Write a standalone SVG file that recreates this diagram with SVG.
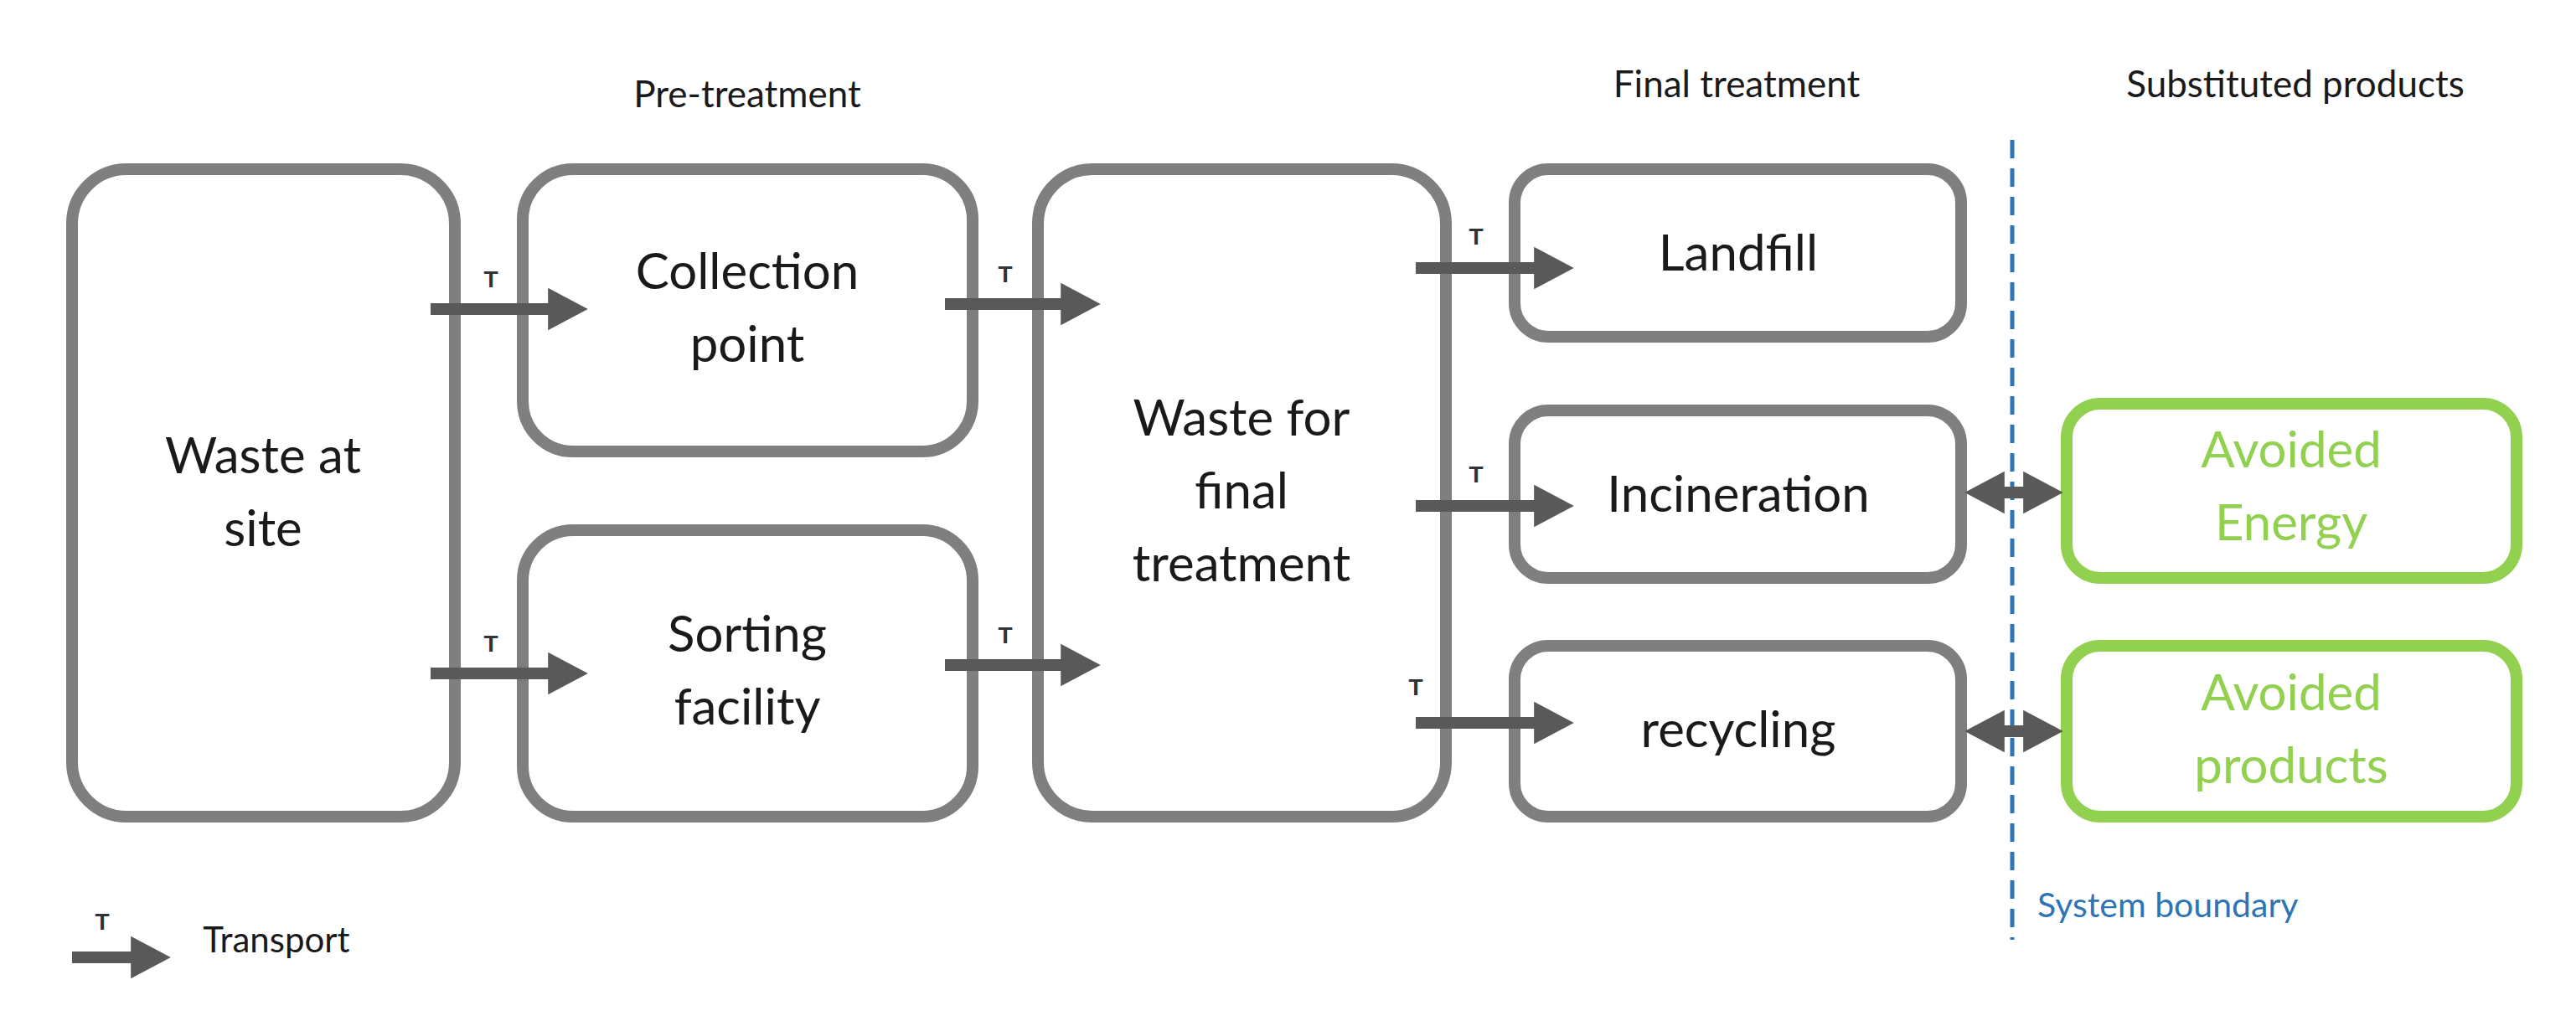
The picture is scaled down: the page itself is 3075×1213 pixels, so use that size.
<svg xmlns="http://www.w3.org/2000/svg" width="3075" height="1213" viewBox="0 0 3075 1213">
<defs>
<marker id="ah" markerWidth="4" markerHeight="4" refX="1.2" refY="2" orient="auto" markerUnits="strokeWidth"><path d="M0,0.2 L3.4,2 L0,3.8 Z" fill="#595959"/></marker>
<marker id="ahs" markerWidth="4" markerHeight="4" refX="1.2" refY="2" orient="auto-start-reverse" markerUnits="strokeWidth"><path d="M0,0.2 L3.4,2 L0,3.8 Z" fill="#595959"/></marker>
</defs>
<style>
.box{fill:#fff;stroke:#7f7f7f;stroke-width:14}
.gbox{fill:#fff;stroke:#92d050;stroke-width:14}
.t{font-family:Lato,"Open Sans",sans-serif;font-size:60px;fill:#1a1a1a;text-anchor:middle}
.g{font-family:Lato,"Open Sans",sans-serif;font-size:60px;fill:#92d050;text-anchor:middle}
.h{font-family:Lato,"Open Sans",sans-serif;font-size:44px;fill:#1a1a1a;text-anchor:middle}
.lt{font-family:"Liberation Sans",sans-serif;font-size:28px;font-weight:bold;fill:#333;text-anchor:middle}
.ar{stroke:#595959;stroke-width:14;fill:none;marker-end:url(#ah)}
.dar{stroke:#595959;stroke-width:14;fill:none;marker-end:url(#ahs);marker-start:url(#ahs)}
</style>
<text class="h" x="892" y="128">Pre-treatment</text>
<text class="h" x="2073" y="116">Final treatment</text>
<text class="h" x="2740" y="116">Substituted products</text>
<line x1="2402" y1="167" x2="2402" y2="1122" stroke="#2e75b6" stroke-width="5" stroke-dasharray="22,12"/>
<text x="2432" y="1095" font-family="Lato,'Open Sans',sans-serif" font-size="41" fill="#2e75b6">System boundary</text>
<g id="waste-site"><rect class="box" x="86" y="202" width="457" height="773" rx="65"/><text class="t" x="314" y="565">Waste at</text><text class="t" x="314" y="652">site</text></g>
<g id="collection"><rect class="box" x="624" y="202" width="537" height="337" rx="60"/><text class="t" x="892" y="345">Collection</text><text class="t" x="892" y="432">point</text></g>
<g id="sorting"><rect class="box" x="624" y="633" width="537" height="342" rx="60"/><text class="t" x="892" y="778">Sorting</text><text class="t" x="892" y="865">facility</text></g>
<g id="waste-final"><rect class="box" x="1239" y="202" width="487" height="773" rx="65"/><text class="t" x="1482" y="520">Waste for</text><text class="t" x="1482" y="607">final</text><text class="t" x="1482" y="694">treatment</text></g>
<g id="landfill"><rect class="box" x="1808" y="202" width="533" height="200" rx="40"/><text class="t" x="2075" y="323">Landfill</text></g>
<g id="incineration"><rect class="box" x="1808" y="490" width="533" height="200" rx="40"/><text class="t" x="2075" y="611">Incineration</text></g>
<g id="recycling"><rect class="box" x="1808" y="771" width="533" height="204" rx="40"/><text class="t" x="2075" y="892">recycling</text></g>
<g id="energy"><rect class="gbox" x="2467" y="482" width="537" height="208" rx="40"/><text class="g" x="2735" y="558">Avoided</text><text class="g" x="2735" y="645">Energy</text></g>
<g id="products"><rect class="gbox" x="2467" y="771" width="537" height="204" rx="40"/><text class="g" x="2735" y="848">Avoided</text><text class="g" x="2735" y="935">products</text></g>
<g id="connectors">
<line class="ar" x1="514" y1="369" x2="671" y2="369"/><text class="lt" x="586" y="343">T</text>
<line class="ar" x1="514" y1="804" x2="671" y2="804"/><text class="lt" x="586" y="778">T</text>
<line class="ar" x1="1128" y1="363" x2="1283" y2="363"/><text class="lt" x="1200" y="337">T</text>
<line class="ar" x1="1128" y1="794" x2="1283" y2="794"/><text class="lt" x="1200" y="768">T</text>
<line class="ar" x1="1690" y1="320" x2="1848" y2="320"/><text class="lt" x="1762" y="292">T</text>
<line class="ar" x1="1690" y1="604" x2="1848" y2="604"/><text class="lt" x="1762" y="576">T</text>
<line class="ar" x1="1690" y1="863" x2="1848" y2="863"/><text class="lt" x="1690" y="830">T</text>
<line class="dar" x1="2376" y1="588" x2="2432" y2="588"/>
<line class="dar" x1="2376" y1="873" x2="2432" y2="873"/>
</g>
<g id="legend"><line class="ar" x1="86" y1="1143" x2="173" y2="1143"/><text class="lt" x="122" y="1110">T</text><text x="330" y="1137" font-family="Lato,'Open Sans',sans-serif" font-size="42" fill="#1a1a1a" text-anchor="middle">Transport</text></g>
</svg>
